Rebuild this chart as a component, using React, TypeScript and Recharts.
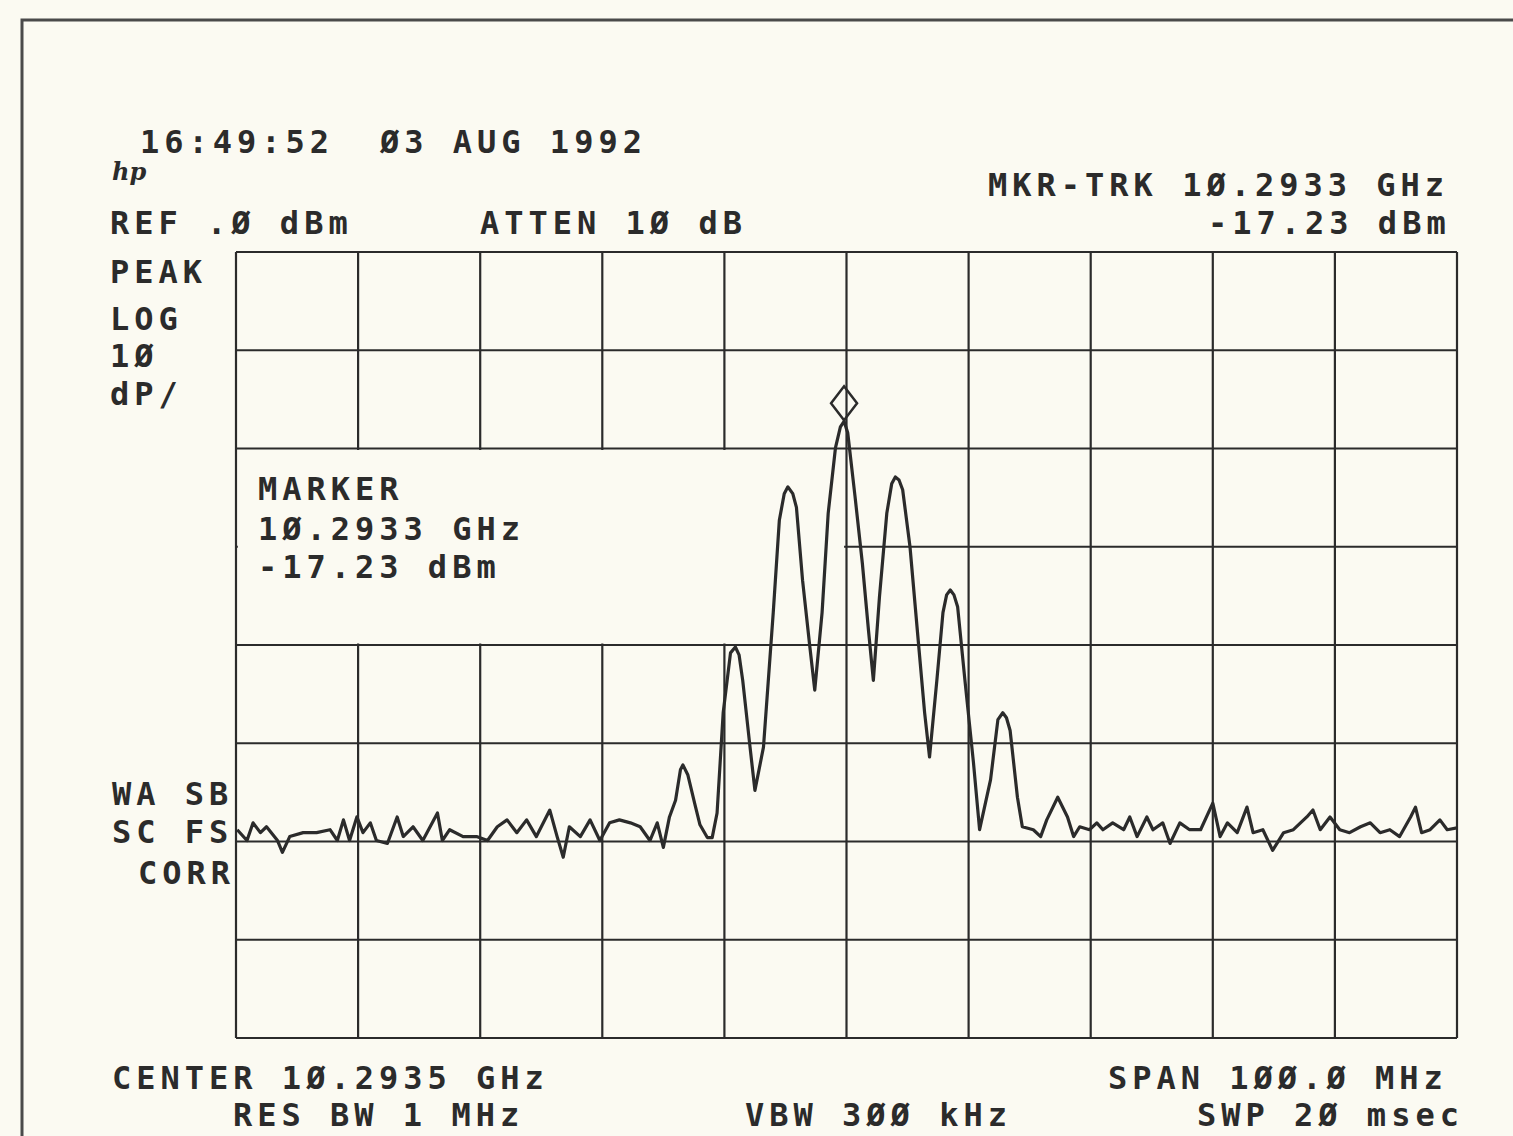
import React from 'react';
import { LineChart, Line, XAxis, YAxis, CartesianGrid, ReferenceArea, ReferenceDot } from 'recharts';

// Frequency offset from center (MHz), center 10.2935 GHz, span 100 MHz
const freqMHz = [
  -49.9, -49.1, -48.6, -48.0, -47.5, -46.6, -46.2, -45.6, -44.5, -43.4,
  -42.3, -41.7, -41.2, -40.7, -40.1, -39.6, -39.0, -38.5, -37.6, -36.8,
  -36.3, -35.5, -34.7, -33.5, -33.1, -32.5, -31.4, -30.3, -29.4, -28.6,
  -27.8, -27.0, -26.2, -25.4, -24.3, -23.7, -23.2, -22.7, -21.8, -21.0,
  -20.2, -19.4, -18.6, -17.7, -16.9, -16.1, -15.5, -15.0, -14.5, -14.0,
  -13.6, -13.4, -13.0, -12.4, -12.0, -11.4, -11.0, -10.6, -10.1, -9.5,
  -9.1, -8.8, -8.5, -7.9, -7.5, -6.8, -6.0, -5.5, -5.1, -4.8, -4.4, -4.1, -3.6,
  -3.0, -2.6, -2.0, -1.5, -0.9, -0.5, -0.2, 0.1, 0.7, 1.3, 1.8,
  2.2, 2.7, 3.3, 3.7, 4.0, 4.3, 4.6, 5.2, 5.8, 6.4, 6.8, 7.4,
  7.9, 8.2, 8.5, 8.8, 9.1, 9.7, 10.4, 10.9, 11.8, 12.4, 12.8, 13.1, 13.4,
  14.0, 14.4, 15.3, 15.9, 16.4, 17.3, 18.1, 18.6, 19.1, 19.9,
  20.5, 21.0, 21.8, 22.7, 23.2, 23.8, 24.6, 25.1, 25.9, 26.5,
  27.3, 28.1, 29.0, 30.0, 30.6, 31.2, 32.0, 32.8, 33.3, 34.1,
  34.9, 35.8, 36.6, 37.7, 38.2, 38.8, 39.6, 40.4, 41.2, 42.1,
  42.9, 43.7, 44.5, 45.3, 46.2, 46.6, 47.1, 47.8, 48.6, 49.2,
  50.0,
];

// Measured level (dBm)
const levelDbm = [
  -58.8, -59.9, -58.1, -59.1, -58.5, -59.9, -61.1, -59.5, -59.1, -59.1,
  -58.8, -59.9, -57.8, -59.9, -57.5, -59.1, -58.1, -59.9, -60.2, -57.5,
  -59.5, -58.5, -59.9, -57.1, -59.9, -58.8, -59.5, -59.5, -59.9, -58.5,
  -57.8, -59.1, -57.8, -59.5, -56.8, -59.5, -61.6, -58.5, -59.5, -57.8,
  -59.9, -58.1, -57.8, -58.1, -58.5, -59.9, -58.1, -60.6, -57.5, -55.8,
  -52.7, -52.2, -53.2, -56.3, -58.3, -59.6, -59.6, -57.1, -46.9, -40.8,
  -40.2, -41.0, -43.6, -50.4, -54.8, -50.4, -36.7, -27.3, -24.6, -23.9, -24.6, -26.0, -33.4,
  -40.2, -44.6, -36.7, -26.6, -19.9, -17.8, -17.23, -18.4, -24.9, -31.7, -38.5,
  -43.6, -35.1, -26.6, -23.6, -22.9, -23.2, -24.2, -30.0, -38.5, -46.9, -51.4, -43.6,
  -36.7, -34.9, -34.4, -34.9, -36.1, -43.6, -52.0, -58.8, -53.7, -47.6, -46.9, -47.4, -48.7,
  -55.5, -58.5, -58.8, -59.5, -57.8, -55.5, -57.5, -59.5, -58.5, -58.8,
  -58.1, -58.8, -58.1, -58.8, -57.5, -59.5, -57.5, -58.8, -58.1, -60.2,
  -58.1, -58.8, -58.8, -56.1, -59.5, -58.1, -59.1, -56.5, -59.1, -58.8,
  -60.9, -59.1, -58.8, -57.5, -56.8, -58.8, -57.5, -58.8, -59.1, -58.5,
  -58.1, -59.1, -58.8, -59.5, -57.5, -56.5, -59.1, -58.8, -57.8, -58.8,
  -58.6,
];

const freqTicks = [-50, -40, -30, -20, -10, 0, 10, 20, 30, 40, 50];
const levelTicks = [0, -10, -20, -30, -40, -50, -60, -70, -80];

const markerFreq = -0.2;
const markerLevel = -17.23;

const data = freqMHz.map((f, i) => ({ f, level: levelDbm[i] }));

const BG = '#fbfaf2';
const INK = '#2b2b2b';

const Diamond = (props: any) => {
  const { cx, cy } = props;
  if (cx == null || cy == null) return null;
  const w = 13;
  const h = 17;
  const bottom = cy - 1;
  const mid = bottom - h;
  return (
    <path
      d={`M${cx},${bottom} L${cx - w},${mid} L${cx},${mid - h} L${cx + w},${mid} Z`}
      fill="none"
      stroke={INK}
      strokeWidth={2.5}
    />
  );
};

const txt = {
  fontFamily: '"DejaVu Sans Mono", monospace',
  fontSize: 32,
  fontWeight: 'bold',
  letterSpacing: 5,
  fill: INK,
} as const;

type Lbl = { t: string; x: number; y: number };
const labels: Lbl[] = [
  { t: '16:49:52', x: 140, y: 153 },
  { t: 'Ø3 AUG 1992', x: 380, y: 153 },
  { t: 'MKR-TRK 1Ø.2933 GHz', x: 988, y: 196 },
  { t: 'REF .Ø dBm', x: 110, y: 234 },
  { t: 'ATTEN 1Ø dB', x: 480, y: 234 },
  { t: '-17.23 dBm', x: 1208, y: 234 },
  { t: 'PEAK', x: 110, y: 283 },
  { t: 'LOG', x: 110, y: 330 },
  { t: '1Ø', x: 110, y: 367 },
  { t: 'dP/', x: 110, y: 405 },
  { t: 'MARKER', x: 258, y: 500 },
  { t: '1Ø.2933 GHz', x: 258, y: 540 },
  { t: '-17.23 dBm', x: 258, y: 578 },
  { t: 'WA SB', x: 112, y: 805 },
  { t: 'SC FS', x: 112, y: 843 },
  { t: 'CORR', x: 138, y: 884 },
  { t: 'CENTER 1Ø.2935 GHz', x: 112, y: 1089 },
  { t: 'SPAN 1ØØ.Ø MHz', x: 1108, y: 1089 },
  { t: 'RES BW 1 MHz', x: 233, y: 1126 },
  { t: 'VBW 3ØØ kHz', x: 745, y: 1126 },
  { t: 'SWP 2Ø msec', x: 1197, y: 1126 },
];

export default function App() {
  return (
    <div style={{ position: 'absolute', left: 0, top: 0, width: 1513, height: 1136, background: BG, overflow: 'hidden' }}>
      <div style={{ position: 'absolute', left: 0, top: 0 }}>
        <LineChart width={1513} height={1136} data={data} margin={{ top: 252, right: 56, bottom: 98, left: 236 }}>
          <XAxis dataKey="f" type="number" domain={[-50, 50]} ticks={freqTicks} hide allowDataOverflow />
          <YAxis type="number" domain={[-80, 0]} ticks={levelTicks} hide allowDataOverflow />
          <CartesianGrid stroke={INK} strokeWidth={2.2} />
          <ReferenceArea x1={-49.85} x2={-0.2} y1={-39.85} y2={-20.15} fill={BG} fillOpacity={1} stroke="none" />
          <Line
            dataKey="level"
            type="linear"
            stroke={INK}
            strokeWidth={3.2}
            strokeLinejoin="round"
            dot={false}
            isAnimationActive={false}
          />
          <ReferenceDot x={markerFreq} y={markerLevel} r={1} shape={Diamond} />
        </LineChart>
      </div>
      <svg width={1513} height={1136} style={{ position: 'absolute', left: 0, top: 0, pointerEvents: 'none' }}>
        <path d="M22,1136 L22,20 L1513,20" fill="none" stroke="#4a4a4a" strokeWidth={3} />
        <text x={112} y={180} style={{ fontFamily: '"DejaVu Serif", serif', fontStyle: 'italic', fontWeight: 'bold', fontSize: 24, fill: INK }}>hp</text>
        {labels.map((l, i) => (
          <text key={i} x={l.x} y={l.y} style={txt}>{l.t}</text>
        ))}
      </svg>
    </div>
  );
}
